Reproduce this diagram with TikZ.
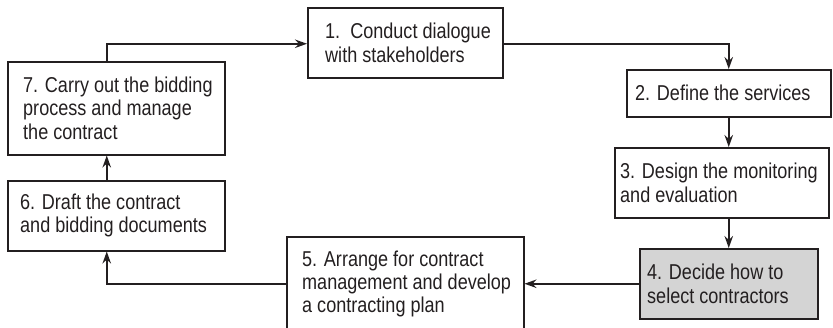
\documentclass[tikz,border=0pt]{standalone}
\usepackage{fontspec}
\setmainfont{Liberation Sans}[FakeStretch=0.84]
\usetikzlibrary{arrows.meta}
\definecolor{boxgray}{RGB}{212,212,212}
\definecolor{ink}{RGB}{35,31,32}
\begin{document}
\begin{tikzpicture}[x=1pt,y=-1pt,
  box/.style={draw=ink,line width=1.5pt,rectangle,inner sep=0pt,anchor=north west},
  label/.style={anchor=west,align=left,inner sep=0pt,text=ink,font=\fontsize{21.5pt}{23.3pt}\selectfont},
  conn/.style={draw=ink,line width=1.5pt,-{Stealth[length=12pt,width=8.5pt]}}]
\useasboundingbox (0,0) rectangle (833,327);
\clip (0,0) rectangle (833,327);
% boxes
\node[box,minimum width=195pt,minimum height=70pt] (b1) at (307,7) {};
\node[box,minimum width=204pt,minimum height=47pt] (b2) at (626,69) {};
\node[box,minimum width=214pt,minimum height=70pt] (b3) at (614,147) {};
\node[box,fill=boxgray,minimum width=178pt,minimum height=70pt] (b4) at (639,248) {};
\node[box,minimum width=237pt,minimum height=94pt] (b5) at (286,236) {};
\node[box,minimum width=217pt,minimum height=70pt] (b6) at (7,180) {};
\node[box,minimum width=217pt,minimum height=93pt] (b7) at (7,61) {};
% texts
\node[label] (t1) at ([xshift=18pt]b1.west) {1.\ \ Conduct dialogue\\with stakeholders};
\node[label] (t2) at ([xshift=9pt]b2.west) {2. Define the services};
\node[label] (t3) at ([xshift=6pt]b3.west) {3. Design the monitoring\\and evaluation};
\node[label] (t4) at ([xshift=8pt]b4.west) {4. Decide how to\\select contractors};
\node[label] (t5) at ([xshift=16pt]b5.west) {5. Arrange for contract\\management and develop\\a contracting plan};
\node[label] (t6) at ([xshift=13pt]b6.west) {6. Draft the contract\\and bidding documents};
\node[label] (t7) at ([xshift=16pt]b7.west) {7. Carry out the bidding\\process and manage\\the contract};
% connectors
\coordinate (c7top) at ([xshift=-9.5pt]b7.north);
\coordinate (c7bot) at ([xshift=-9.5pt]b7.south);
\coordinate (c6top) at ([xshift=-9.5pt]b6.north);
\coordinate (c6bot) at ([xshift=-9.5pt]b6.south);
\coordinate (c1w) at ([yshift=-1pt]b1.west);
\coordinate (c5w) at (b5.west |- b4.west);
\draw[conn] (c7top) |- (c1w);
\draw[conn] ([yshift=-1pt]b1.east) -| (b2.north);
\draw[conn] (b2.south) -- (b2.south |- b3.north);
\draw[conn] (b4.north |- b3.south) -- (b4.north);
\draw[conn] (b4.west) -- (b4.west -| b5.east);
\draw[conn] (c5w) -| (c6bot);
\draw[conn] (c6top) -- (c7bot);
\end{tikzpicture}
\end{document}
